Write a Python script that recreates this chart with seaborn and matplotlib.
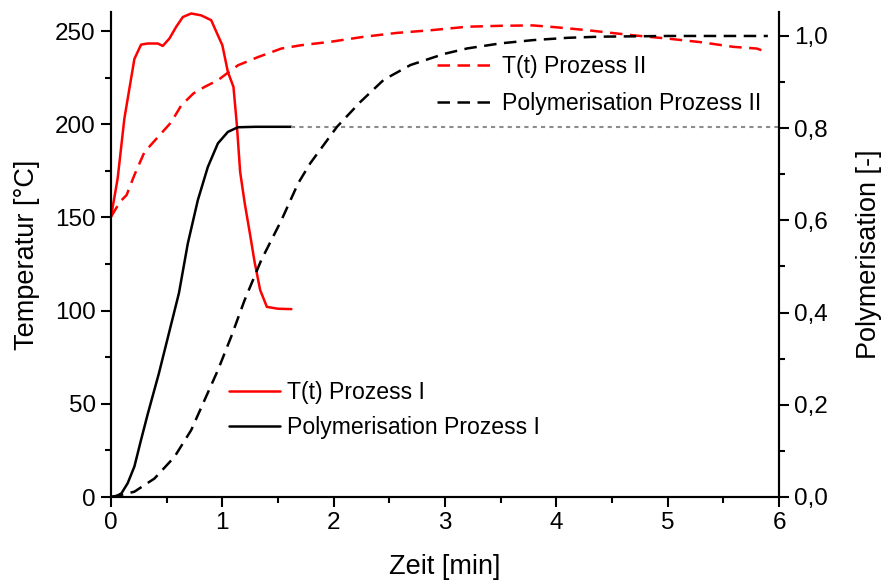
import matplotlib
matplotlib.use("Agg")
import matplotlib.pyplot as plt
import seaborn as sns
from matplotlib.ticker import MultipleLocator, FuncFormatter
from matplotlib.lines import Line2D

# ---- data ----
t_T1 = [0, 0.06, 0.12, 0.165, 0.21, 0.27, 0.33, 0.42, 0.465, 0.525, 0.585, 0.645,
        0.72, 0.81, 0.9, 0.96, 1.0, 1.05, 1.1, 1.13, 1.16, 1.2, 1.25, 1.29, 1.34,
        1.4, 1.5, 1.62]
T1 = [150.3, 171, 203, 219, 235, 242.7, 243.3, 243.3, 242, 246, 252.2, 257.5,
      259.4, 258.4, 255.8, 247.7, 242.4, 228, 220, 200, 174.4, 158, 140.5, 126, 111,
      102, 101, 100.8]

t_P1 = [0, 0.05, 0.094, 0.15, 0.21, 0.27, 0.33, 0.43, 0.52, 0.61, 0.69, 0.78, 0.87,
        0.96, 1.05, 1.14, 1.3, 1.62]
P1 = [0, 0.002, 0.008, 0.03, 0.066, 0.124, 0.18, 0.268, 0.355, 0.442, 0.55, 0.644,
      0.716, 0.767, 0.792, 0.802, 0.803, 0.803]

t_ref = [1.62, 6.0]
P_ref = [0.803, 0.803]

t_T2 = [0, 0.08, 0.14, 0.21, 0.3, 0.45, 0.54, 0.63, 0.74, 0.84, 0.96, 1.02, 1.14,
        1.32, 1.53, 1.71, 1.97, 2.27, 2.57, 2.87, 3.2, 3.5, 3.79, 4.0, 4.27, 4.69,
        4.99, 5.3, 5.59, 5.8, 5.9]
T2 = [150.3, 158.3, 162, 172.7, 185, 195, 201, 210, 216.5, 220, 223.6, 226.3, 231.6,
      236, 240.6, 242.4, 244.2, 246.9, 249, 250.4, 252.3, 252.8, 253, 252, 250.5,
      247.7, 246, 244, 241.5, 240.6, 238.5]

t_P2 = [0, 0.1, 0.21, 0.39, 0.57, 0.72, 0.84, 0.96, 1.08, 1.2, 1.35, 1.53, 1.68,
        1.79, 2.03, 2.24, 2.45, 2.69, 2.99, 3.2, 3.5, 3.79, 4.1, 4.39, 5.0, 5.9]
P2 = [0, 0.005, 0.0115, 0.04, 0.087, 0.145, 0.21, 0.275, 0.348, 0.427, 0.514, 0.6,
      0.68, 0.724, 0.803, 0.857, 0.905, 0.937, 0.961, 0.973, 0.984, 0.991, 0.996,
      0.9985, 1.0, 1.0]

labels = ["T(t) Prozess I", "Polymerisation Prozess I",
          "T(t) Prozess II", "Polymerisation Prozess II"]

# ---- style ----
sns.set_style("ticks")
plt.rcParams["font.family"] = ["Liberation Sans", "DejaVu Sans"]
plt.rcParams["text.color"] = "black"
plt.rcParams["axes.labelcolor"] = "black"
plt.rcParams["xtick.color"] = "black"
plt.rcParams["ytick.color"] = "black"
FS_TICK = 17.5
FS_LAB = 19.5
FS_LEG = 16.6

fig = plt.figure(figsize=(8.82, 5.82), dpi=100)
ax = fig.add_axes([111/882, 1-497/582, (779-111)/882, (497-12)/582])
ax2 = ax.twinx()

RED = "#ff0000"
LW = 1.8
DASH = (5, 3)

sns.lineplot(x=t_T1, y=T1, ax=ax, color=RED, lw=LW, estimator=None, sort=False)
sns.lineplot(x=t_T2, y=T2, ax=ax, color=RED, lw=LW, estimator=None, sort=False)
ax.lines[-1].set_dashes(DASH)

sns.lineplot(x=t_P1, y=P1, ax=ax2, color="black", lw=LW, estimator=None, sort=False)
sns.lineplot(x=t_ref, y=P_ref, ax=ax2, color="#8c8c8c", lw=1.5, estimator=None, sort=False)
ax2.lines[-1].set_dashes((2, 2))
sns.lineplot(x=t_P2, y=P2, ax=ax2, color="black", lw=LW, estimator=None, sort=False)
ax2.lines[-1].set_dashes(DASH)

ax.set_xlim(0, 6)
ax.set_ylim(0, 260.2)
ax2.set_ylim(0, 1.052)

ax.xaxis.set_major_locator(MultipleLocator(1))
ax.xaxis.set_minor_locator(MultipleLocator(0.5))
ax.yaxis.set_major_locator(MultipleLocator(50))
ax.yaxis.set_minor_locator(MultipleLocator(25))
ax2.yaxis.set_major_locator(MultipleLocator(0.2))
ax2.yaxis.set_minor_locator(MultipleLocator(0.1))
ax2.yaxis.set_major_formatter(FuncFormatter(lambda v, p: f"{v:.1f}".replace(".", ",")))

for a in (ax, ax2):
    a.tick_params(which="major", length=7, width=1.5, direction="out",
                  labelsize=FS_TICK, colors="black", pad=4)
    a.tick_params(which="minor", length=4, width=1.5, direction="out", colors="black")
    for s in a.spines.values():
        s.set_linewidth(1.5)
        s.set_color("black")
    a.spines["top"].set_visible(False)

ax.set_xlabel("Zeit [min]", fontsize=FS_LAB, labelpad=14, color="black")
ax.set_ylabel("Temperatur [°C]", fontsize=FS_LAB, labelpad=11, color="black")
ax2.set_ylabel("Polymerisation [-]", fontsize=FS_LAB, labelpad=20, color="black")

h1 = [Line2D([], [], color=RED, lw=LW), Line2D([], [], color="black", lw=LW)]
h2 = [Line2D([], [], color=RED, lw=LW, dashes=DASH),
      Line2D([], [], color="black", lw=LW, dashes=DASH)]

leg1 = ax2.legend(h1, labels[:2], loc="center left", bbox_to_anchor=(229/882, 1-410/582),
                  bbox_transform=fig.transFigure, frameon=False, fontsize=FS_LEG,
                  handlelength=2.2, handletextpad=0.3, labelspacing=0.55,
                  borderpad=0, borderaxespad=0, labelcolor="black")
ax2.add_artist(leg1)
leg2 = ax2.legend(h2, labels[2:], loc="center left", bbox_to_anchor=(437/882, 1-85/582),
                  bbox_transform=fig.transFigure, frameon=False, fontsize=FS_LEG,
                  handlelength=2.3, handletextpad=0.5, labelspacing=0.6,
                  borderpad=0, borderaxespad=0, labelcolor="black")

fig.savefig("out.png", dpi=100)
